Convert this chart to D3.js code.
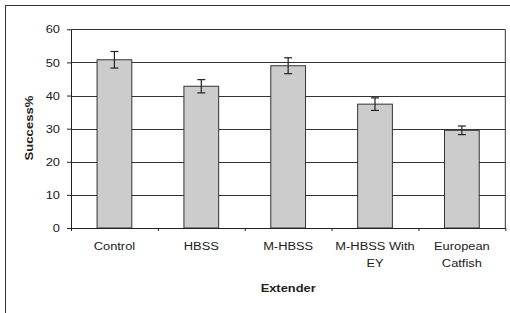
<!DOCTYPE html>
<html lang="en">
<head>
<meta charset="utf-8"/>
<title>Success by extender</title>
<script src="https://d3js.org/d3.v7.min.js"></script>
<style>
    body { margin: 0; background: #fff; }
    svg { display: block; font-family: "Liberation Sans", Arial, sans-serif; }
    .domain, .tick line { stroke: #222; }
</style>
</head>
<body>
<svg width="510" height="313"></svg>
<script>
    const categories = ["Control", "HBSS", "M-HBSS", "M-HBSS With\nEY", "European\nCatfish"];
    const success = [50.8, 42.8, 49.0, 37.4, 29.5];
    const errors = [2.5, 2.0, 2.4, 1.9, 1.3];
    const yTicks = [0, 10, 20, 30, 40, 50, 60];

    const svg = d3.select("svg");
    const stretch = 1.12;  // the picture is a bit wider than tall
    const fs = 11.5;

    const plotL = 71, plotR = 505.3, plotT = 29.3, plotB = 228;

    // outer frame, only top and left edges are inside the picture
    svg.append("rect")
        .attr("x", 5.5).attr("y", 5.5)
        .attr("width", 520).attr("height", 330)
        .attr("fill", "none").attr("stroke", "#333").attr("stroke-width", 1);

    const x = d3.scaleBand().domain(categories).range([plotL, plotR])
        .paddingInner(0.6).paddingOuter(0.3);
    const xEdge = d3.scaleLinear().domain([0, categories.length]).range([plotL, plotR]);
    const y = d3.scaleLinear().domain([0, 60]).range([plotB, plotT]);

    // grid
    svg.append("g").selectAll("line")
        .data(yTicks.filter(d => d > 0))
        .join("line")
        .attr("x1", plotL).attr("x2", plotR)
        .attr("y1", d => Math.round(y(d)) + 0.5).attr("y2", d => Math.round(y(d)) + 0.5)
        .attr("stroke", "#333").attr("stroke-width", 1);

    // right edge of plot area
    svg.append("line")
        .attr("x1", plotR).attr("x2", plotR)
        .attr("y1", y(60)).attr("y2", y(0))
        .attr("stroke", "#333");

    // bars
    svg.append("g").selectAll("rect")
        .data(categories)
        .join("rect")
        .attr("x", d => x(d))
        .attr("y", (d, i) => y(success[i]))
        .attr("width", x.bandwidth())
        .attr("height", (d, i) => y(0) - y(success[i]))
        .attr("fill", "#cccccc")
        .attr("stroke", "#333").attr("stroke-width", 1);

    // error bars
    const eb = svg.append("g").attr("stroke", "#222").attr("stroke-width", 1.2);
    categories.forEach((c, i) => {
        const cx = x(c) + x.bandwidth() / 2;
        const hi = y(success[i] + errors[i]), lo = y(success[i] - errors[i]);
        eb.append("line").attr("x1", cx).attr("x2", cx).attr("y1", hi).attr("y2", lo);
        eb.append("line").attr("x1", cx - 4).attr("x2", cx + 4).attr("y1", hi).attr("y2", hi);
        eb.append("line").attr("x1", cx - 4).attr("x2", cx + 4).attr("y1", lo).attr("y2", lo);
    });

    // y axis
    const yAxis = svg.append("g")
        .attr("transform", `translate(${plotL},0)`)
        .call(d3.axisLeft(y).tickValues(yTicks).tickSize(4).tickPadding(7).tickSizeOuter(0));
    yAxis.selectAll("text")
        .attr("x", null)
        .attr("transform", `translate(-11,0) scale(${stretch},1)`)
        .attr("font-size", fs).attr("fill", "#222")
        .attr("font-family", "Liberation Sans, Arial, sans-serif");

    // x axis with ticks on the category edges
    svg.append("g")
        .attr("transform", `translate(0,${plotB})`)
        .call(d3.axisBottom(xEdge).tickValues(d3.range(categories.length + 1))
            .tickSize(3).tickSizeOuter(0).tickFormat(""));

    // category labels
    const labels = svg.append("g").attr("font-size", fs).attr("fill", "#222");
    categories.forEach(c => {
        const t = labels.append("text")
            .attr("text-anchor", "middle")
            .attr("transform", `translate(${x(c) + x.bandwidth() / 2},250) scale(${stretch},1)`);
        c.split("\n").forEach((line, k) => {
            t.append("tspan").attr("x", 0).attr("dy", k ? 17 : 0).text(line);
        });
    });

    // axis titles
    svg.append("text")
        .attr("transform", `translate(${(plotL + plotR) / 2},292) scale(${stretch},1)`)
        .attr("text-anchor", "middle")
        .attr("font-size", fs).attr("font-weight", "bold").attr("fill", "#222")
        .text("Extender");

    svg.append("text")
        .attr("transform", "translate(33,128) rotate(-90)")
        .attr("text-anchor", "middle")
        .attr("font-size", fs).attr("font-weight", "bold").attr("fill", "#222")
        .attr("textLength", 65).attr("lengthAdjust", "spacingAndGlyphs")
        .text("Success%");
</script>
</body>
</html>
